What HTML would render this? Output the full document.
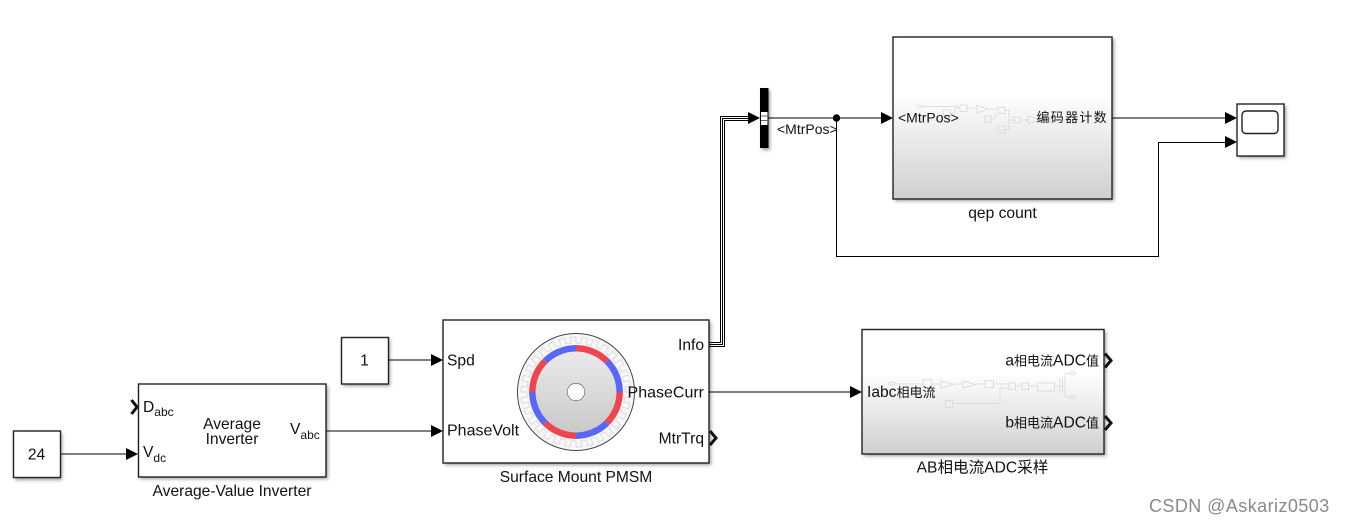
<!DOCTYPE html>
<html><head><meta charset="utf-8">
<style>
html,body{margin:0;padding:0;background:#fff;width:1345px;height:523px;overflow:hidden}
svg{display:block}
text{font-family:"Liberation Sans","Noto Sans CJK SC",sans-serif;font-size:15.600px;fill:#111}
.c{font-size:13px}
.m{fill:none;stroke:#d6d6d6;stroke-width:.8}
.b{fill:#fff;stroke:#222;stroke-width:1.400}
.w{fill:none;stroke:#000;stroke-width:1}
</style></head><body>
<svg width="1345" height="523" viewBox="0 0 1345 523" xmlns="http://www.w3.org/2000/svg">
<defs>
<filter id="s" x="-20%" y="-20%" width="140%" height="140%"><feGaussianBlur stdDeviation="1.800"/></filter>
<linearGradient id="g" x1="0" y1="0" x2="0" y2="1"><stop offset="0" stop-color="#fff"/><stop offset=".35" stop-color="#fff"/><stop offset="1" stop-color="#cfcfcf"/></linearGradient>
<linearGradient id="r" x1="0" y1="0" x2="0" y2="1"><stop offset="0" stop-color="#ebebeb"/><stop offset="1" stop-color="#c8c8c8"/></linearGradient>
<path id="t" d="M0 -49L5.120 -48.730L5.750 -54.700L11.440 -53.800L10.190 -47.930" fill="none" stroke="#d8d8d8" stroke-width=".9"/>
</defs>
<!-- shadows -->
<g fill="#777" filter="url(#s)" opacity=".75">
<rect x="15" y="433" width="47" height="47"/><rect x="140" y="386" width="188" height="93"/>
<rect x="343" y="339" width="47" height="47"/><rect x="445" y="322" width="266" height="143"/>
<rect x="895" y="39" width="219" height="162"/><rect x="864" y="331" width="242" height="125"/>
<rect x="1239" y="106" width="47" height="52"/><rect x="762" y="90" width="8" height="60"/>
</g>
<!-- wires -->
<path class="w" d="M60.500 454H127M326 431H432M388 360H432M709 392H851M768 118H882M1112 118H1226M836.500 118V256.500H1158.500V142.500H1226"/>
<g fill="none" stroke="#000" stroke-width="1">
<path d="M709 342.500H720.500V116.500H749"/>
<path d="M709 344.500H722.500V118.500H749"/>
<path d="M709 346.500H724.500V120.500H749"/>
</g>
<circle cx="836.500" cy="118" r="3.700" fill="#000"/>
<!-- arrowheads -->
<g fill="#000">
<path d="M126 448L138 454L126 460Z"/><path d="M431 425L443 431L431 437Z"/><path d="M431 354L443 360L431 366Z"/>
<path d="M850 386L862 392L850 398Z"/><path d="M748 112L760 118L748 124Z"/><path d="M881 112L893 118L881 124Z"/>
<path d="M1225 112L1237 118L1225 124Z"/><path d="M1225 136L1237 142L1225 148Z"/>
</g>
<g fill="none" stroke="#111" stroke-width="3">
<path d="M131.500 400L137 407L131.500 414"/>
<path d="M710 431L716 438L710 445"/>
<path d="M1105 353.500L1111 360.500L1105 367.500"/>
<path d="M1105 416L1111 423L1105 430"/>
</g>
<!-- constants -->
<rect class="b" x="13.500" y="431" width="47" height="46.500"/>
<text x="36.500" y="459.500" text-anchor="middle">24</text>
<rect class="b" x="341.500" y="337.500" width="47" height="46.500"/>
<text x="364.500" y="365.500" text-anchor="middle">1</text>
<!-- inverter -->
<rect class="b" x="138.500" y="384" width="187.500" height="93"/>
<text x="143" y="412">D<tspan dy="4" style="font-size:12px">abc</tspan></text>
<text x="143" y="457">V<tspan dy="5" style="font-size:12px">dc</tspan></text>
<text x="232" y="429" text-anchor="middle">Average</text>
<text x="232" y="444" text-anchor="middle">Inverter</text>
<text x="290" y="434">V<tspan dy="5" style="font-size:12px">abc</tspan></text>
<text x="232" y="496" text-anchor="middle">Average-Value Inverter</text>
<!-- PMSM -->
<rect class="b" x="443" y="320" width="266" height="143"/>
<circle cx="576" cy="392" r="58.500" fill="#fff" stroke="#444" stroke-width="1"/>
<circle cx="576" cy="392" r="52.500" fill="none" stroke="#f7f7f7" stroke-width="10"/>
<g transform="translate(576 392)">
<use href="#t"/><use href="#t" transform="rotate(12)"/><use href="#t" transform="rotate(24)"/><use href="#t" transform="rotate(36)"/><use href="#t" transform="rotate(48)"/><use href="#t" transform="rotate(60)"/>
<use href="#t" transform="rotate(72)"/><use href="#t" transform="rotate(84)"/><use href="#t" transform="rotate(96)"/><use href="#t" transform="rotate(108)"/><use href="#t" transform="rotate(120)"/><use href="#t" transform="rotate(132)"/>
<use href="#t" transform="rotate(144)"/><use href="#t" transform="rotate(156)"/><use href="#t" transform="rotate(168)"/><use href="#t" transform="rotate(180)"/><use href="#t" transform="rotate(192)"/><use href="#t" transform="rotate(204)"/>
<use href="#t" transform="rotate(216)"/><use href="#t" transform="rotate(228)"/><use href="#t" transform="rotate(240)"/><use href="#t" transform="rotate(252)"/><use href="#t" transform="rotate(264)"/><use href="#t" transform="rotate(276)"/>
<use href="#t" transform="rotate(288)"/><use href="#t" transform="rotate(300)"/><use href="#t" transform="rotate(312)"/><use href="#t" transform="rotate(324)"/><use href="#t" transform="rotate(336)"/><use href="#t" transform="rotate(348)"/>
</g>
<circle cx="576" cy="392" r="43" fill="url(#r)"/>
<g fill="none" stroke-width="6.500">
<path stroke="#ee4650" d="M576 348.300A43.700 43.700 0 0 1 606.900 361.100"/>
<path stroke="#5a66f5" d="M606.900 361.100A43.700 43.700 0 0 1 619.700 392"/>
<path stroke="#ee4650" d="M619.700 392A43.700 43.700 0 0 1 606.900 422.900"/>
<path stroke="#5a66f5" d="M606.900 422.900A43.700 43.700 0 0 1 576 435.700"/>
<path stroke="#ee4650" d="M576 435.700A43.700 43.700 0 0 1 545.100 422.900"/>
<path stroke="#5a66f5" d="M545.100 422.900A43.700 43.700 0 0 1 532.300 392"/>
<path stroke="#ee4650" d="M532.300 392A43.700 43.700 0 0 1 545.100 361.100"/>
<path stroke="#5a66f5" d="M545.100 361.100A43.700 43.700 0 0 1 576 348.300"/>
</g>
<circle cx="576" cy="392" r="8.700" fill="#fff" stroke="#777" stroke-width=".8"/>
<text x="447" y="365.500">Spd</text>
<text x="447" y="435.500" style="font-size:16px">PhaseVolt</text>
<text x="704" y="350" text-anchor="end">Info</text>
<text x="704" y="397.500" text-anchor="end" style="font-size:16px">PhaseCurr</text>
<text x="704" y="443.500" text-anchor="end">MtrTrq</text>
<text x="576" y="482" text-anchor="middle">Surface Mount PMSM</text>
<!-- mux -->
<rect x="760" y="88" width="8.500" height="60" fill="#000"/>
<rect x="761" y="112" width="6.500" height="13" fill="#fff"/>
<path d="M761 116H768M761 120.500H768" stroke="#666" stroke-width="1"/>
<text x="777" y="134" style="font-size:14px">&lt;MtrPos&gt;</text>
<!-- qep -->
<rect x="893" y="37" width="219" height="162" fill="url(#g)" stroke="#222" stroke-width="1.400"/>
<g class="m">
<ellipse cx="919.500" cy="106.500" rx="3" ry="1.500"/>
<path d="M922.500 106.500H958M950 113.500H955V108H960M967 108H977M988 109H998M991 119H995V113M1005 110H1009V120H1014M1005 129.500H1009V120M1020 120H1028M1040 120H1050"/>
<rect x="943" y="110" width="7" height="7"/><rect x="960" y="105" width="7" height="6.500"/>
<path d="M977 105L988 109L977 113Z"/><rect x="998" y="107" width="7" height="6.500"/>
<rect x="985" y="116" width="6.500" height="6"/><rect x="998" y="126" width="7" height="7"/>
<rect x="1014" y="117" width="6.500" height="6"/><path d="M1028 116L1040 120L1028 124Z"/>
<rect x="1050" y="117" width="9" height="6"/>
</g>
<text x="898" y="122.500" style="font-size:14px">&lt;MtrPos&gt;</text>
<text x="1108" y="122" text-anchor="end" style="font-size:13px;letter-spacing:1.300px">编码器计数</text>
<text x="1002.500" y="218" text-anchor="middle">qep count</text>
<!-- ADC -->
<rect x="862" y="329.500" width="242" height="124.500" fill="url(#g)" stroke="#222" stroke-width="1.400"/>
<g class="m">
<ellipse cx="891.700" cy="383.700" rx="3.300" ry="1.500"/>
<path d="M895 384H923M931.500 384H941M953 384H963M975 384H985M993 384H1009M1015.500 386H1022M1028.500 386H1037.500M1054.500 386H1060M1060 378V393M1062.500 378V393M1062.500 386H1065M1065 373.500V397M1065 373.500H1069M1065 397H1069M952.500 403.500H1000V388H1009"/>
<rect x="923" y="379.500" width="8.500" height="8.500"/><path d="M941 381L953 384.500L941 388Z"/>
<path d="M963 381L975 384.500L963 388Z"/><rect x="985" y="380.700" width="8.500" height="7"/>
<rect x="1009" y="383" width="6.500" height="6.500"/><rect x="1022" y="383" width="6.500" height="6.500"/>
<rect x="1037.500" y="383" width="17" height="8"/>
<ellipse cx="1072.300" cy="373.500" rx="3.300" ry="1.500"/><ellipse cx="1072.300" cy="397" rx="3.300" ry="1.500"/>
<rect x="945.500" y="400.500" width="7" height="7"/>
</g>
<text x="867" y="397">Iabc<tspan class="c">相电流</tspan></text>
<text x="1099" y="365.500" text-anchor="end">a<tspan class="c">相电流</tspan>ADC<tspan class="c">值</tspan></text>
<text x="1099" y="427.500" text-anchor="end">b<tspan class="c">相电流</tspan>ADC<tspan class="c">值</tspan></text>
<text x="982.500" y="472.500" text-anchor="middle">AB相电流ADC采样</text>
<!-- scope -->
<rect class="b" x="1237" y="104" width="47" height="52"/>
<rect x="1242" y="111" width="36" height="22.500" rx="4" fill="#fff" stroke="#222" stroke-width="1.400"/>
<!-- watermark -->
<text x="1149" y="512" style="font-size:18px;fill:#8a8a8a;letter-spacing:.43px">CSDN @Askariz0503</text>
</svg>
</body></html>
